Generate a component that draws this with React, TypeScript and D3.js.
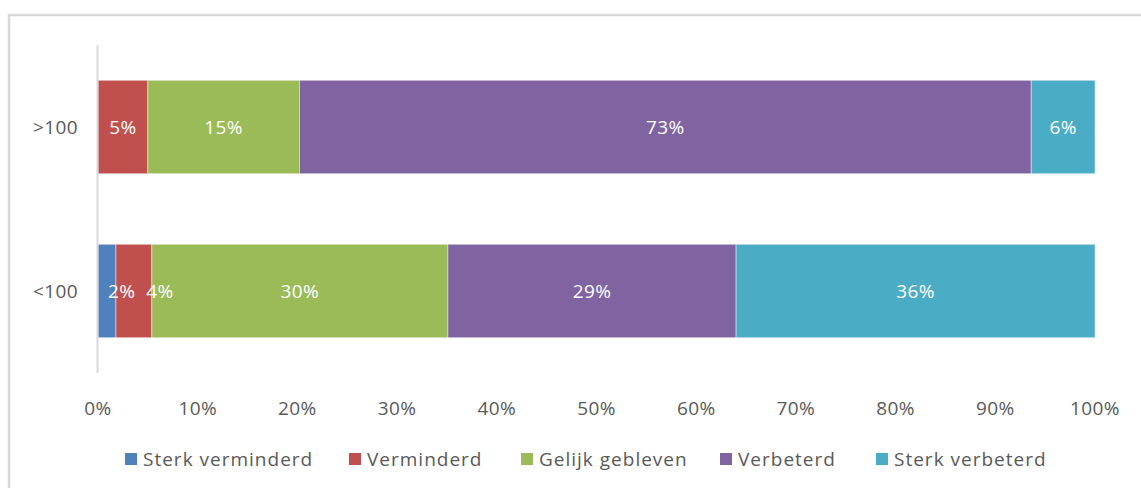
import React from "react";
import * as d3 from "d3";

const categories = [">100", "<100"];
const seriesNames = ["Sterk verminderd", "Verminderd", "Gelijk gebleven", "Verbeterd", "Sterk verbeterd"];
const colors = ["#4F81BD", "#C0504D", "#9BBB59", "#8064A2", "#4BACC6"];
// values per category, in series order (percent)
const valuesGT100 = [0, 5.0, 15.2, 73.4, 6.4];
const valuesLT100 = [1.8, 3.6, 29.7, 28.9, 36.0];
const tickValues = [0, 0.1, 0.2, 0.3, 0.4, 0.5, 0.6, 0.7, 0.8, 0.9, 1];

const W = 1141;
const H = 488;
const FONT = "'Open Sans', sans-serif";
const FS = 19;
const LS = 0.4;

export default function App() {
  const left = 98;
  const right = 1095;
  const top = 45;
  const bottom = 373;
  const x = d3.scaleLinear().domain([0, 1]).range([left, right]);
  const y = d3.scaleBand().domain(categories).range([top, bottom]).paddingInner(0.43).paddingOuter(0.215);
  const fmt = d3.format(".0%");

  const rows = [valuesGT100, valuesLT100].map((vals, i) => {
    const total = d3.sum(vals);
    let acc = 0;
    let prevRight = -Infinity;
    const segs = vals.map((v, j) => {
      const x0 = acc / total;
      acc += v;
      const x1 = acc / total;
      const label = fmt(v / 100);
      const w = label.length * 0.72 * FS;
      let cx = (x(x0) + x(x1)) / 2;
      if (v > 0) {
        cx = Math.max(cx, x(0) + 10 + w / 2, prevRight + 11 + w / 2);
        prevRight = cx + w / 2;
      }
      return { v, x0, x1, j, label, cx };
    });
    return { cat: categories[i], segs };
  });

  const legendX = [125, 349, 521, 720, 876];

  return (
    <svg width={W} height={H} style={{ position: "absolute", left: 0, top: 0 }} fontFamily={FONT} letterSpacing={LS}>
      <rect x={0} y={0} width={W} height={H} fill="#fff" />
      <rect x={9} y={15} width={W + 10} height={H + 10} fill="#fff" stroke="#d9d9d9" strokeWidth={2.5} />
      {rows.map((r) => (
        <g key={r.cat}>
          {r.segs.filter((s) => s.v > 0).map((s) => (
            <rect
              key={"r" + s.j}
              x={x(s.x0)}
              y={y(r.cat)!}
              width={x(s.x1) - x(s.x0)}
              height={y.bandwidth()}
              fill={colors[s.j]}
              stroke="#fff"
              strokeOpacity={0.6}
              strokeWidth={0.75}
            />
          ))}
          {r.segs.filter((s) => s.v > 0).map((s) => (
            <text
              key={"t" + s.j}
              x={s.cx}
              y={y(r.cat)! + y.bandwidth() / 2}
              dy="0.35em"
              textAnchor="middle"
              fill="#fff"
              fontSize={FS}
            >
              {s.label}
            </text>
          ))}
          <text x={78} y={y(r.cat)! + y.bandwidth() / 2} dy="0.35em" textAnchor="end" fill="#595959" fontSize={FS}>
            {r.cat}
          </text>
        </g>
      ))}
      <line x1={left - 0.5} x2={left - 0.5} y1={top} y2={bottom} stroke="#d9d9d9" strokeWidth={2} />
      {tickValues.map((t) => (
        <text key={t} x={x(t)} y={408} dy="0.35em" textAnchor="middle" fill="#595959" fontSize={FS}>
          {fmt(t)}
        </text>
      ))}
      {seriesNames.map((n, i) => (
        <g key={n}>
          <rect x={legendX[i]} y={453} width={12} height={12} fill={colors[i]} />
          <text x={legendX[i] + 18} y={459} dy="0.35em" fill="#595959" fontSize={FS} letterSpacing={1.0}>
            {n}
          </text>
        </g>
      ))}
    </svg>
  );
}
